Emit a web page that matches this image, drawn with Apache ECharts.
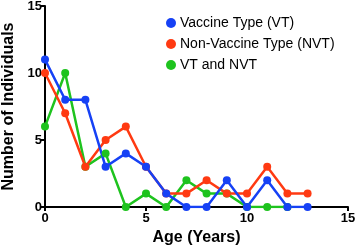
<!DOCTYPE html>
<html>
<head>
<meta charset="utf-8">
<script src="https://cdn.jsdelivr.net/npm/echarts@6/dist/echarts.min.js"></script>
<style>
  html, body { margin: 0; padding: 0; background: #fff; }
  #chart { width: 356px; height: 246px; }
</style>
</head>
<body>
<div id="chart"></div>
<script>
// edades (años) y conteos por grupo
const ages = [0, 1, 2, 3, 4, 5, 6, 7, 8, 9, 10, 11, 12, 13];
const vtValues = [11, 8, 8, 3, 4, 3, 1, 0, 0, 2, 0, 2, 0, 0];
const nvtValues = [10, 7, 3, 5, 6, 3, 1, 1, 2, 1, 1, 3, 1, 1];
const bothValues = [6, 10, 3, 4, 0, 1, 0, 2, 1, 1, 0, 0, 0];
const tickLabels = ['0', '5', '10', '15'];

const font = 'Liberation Sans, Arial, Helvetica, sans-serif';

function toPairs(values) {
    return values.map((v, i) => [ages[i], v]);
}

function makeSeries(name, values, color) {
    return {
        name: name,
        type: 'line',
        data: toPairs(values),
        symbol: 'circle',
        symbolSize: 8,
        lineStyle: { width: 2.5, color: color },
        itemStyle: { color: color },
        z: 3
    };
}

const chart = echarts.init(document.getElementById('chart'));

const axisCommon = {
    type: 'value',
    min: 0,
    max: 15,
    interval: 5,
    splitLine: { show: false },
    axisLine: { show: true, onZero: false, lineStyle: { color: '#000', width: 2 } },
    axisTick: { show: true, inside: false, length: 4, lineStyle: { color: '#000', width: 2 } },
    axisLabel: {
        color: '#000',
        fontFamily: font,
        fontWeight: 'bold',
        fontSize: 13,
        formatter: v => tickLabels[v / 5]
    },
    nameLocation: 'middle',
    nameTextStyle: { color: '#000', fontFamily: font, fontWeight: 'bold', fontSize: 16 }
};

const option = {
    animation: false,
    grid: { left: 45, right: 8, top: 6, bottom: 39, containLabel: false, outerBoundsMode: 'none' },
    legend: {
        orient: 'vertical',
        left: 161,
        top: 11,
        itemWidth: 10,
        itemHeight: 10,
        itemGap: 7,
        icon: 'circle',
        textStyle: { color: '#000', fontFamily: font, fontSize: 14, padding: [0, 0, 0, -1] },
        data: ['Vaccine Type (VT)', 'Non-Vaccine Type (NVT)', 'VT and NVT']
    },
    xAxis: Object.assign({}, axisCommon, {
        name: 'Age (Years)',
        nameGap: 23,
        axisLabel: Object.assign({}, axisCommon.axisLabel, { margin: 5 })
    }),
    yAxis: Object.assign({}, axisCommon, {
        name: 'Number of Individuals',
        nameGap: 27,
        axisLabel: Object.assign({}, axisCommon.axisLabel, { margin: 3 })
    }),
    series: [
        makeSeries('VT and NVT', bothValues, '#1ec31e'),
        makeSeries('Non-Vaccine Type (NVT)', nvtValues, '#ff3a12'),
        makeSeries('Vaccine Type (VT)', vtValues, '#1641f5')
    ]
};

chart.setOption(option);
</script>
</body>
</html>
